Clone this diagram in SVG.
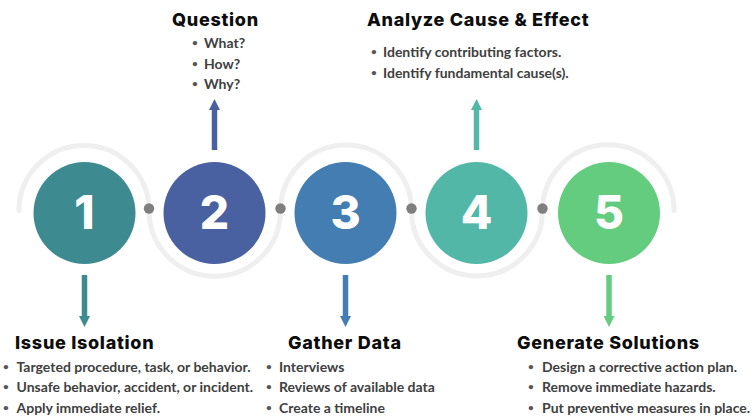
<svg xmlns="http://www.w3.org/2000/svg" width="754" height="417" viewBox="0 0 754 417">
<defs>
<style>
.num{font-family:"Inter","Open Sans","Liberation Sans",sans-serif;font-weight:800;font-size:46px;fill:#fff;text-anchor:middle}
.head{font-family:"Inter","Open Sans","Liberation Sans",sans-serif;font-weight:800;font-size:18px;letter-spacing:0.7px;fill:#0d0d0d}
.body{font-family:"Lato","Liberation Sans",sans-serif;font-weight:700;font-size:14px;fill:#404040}
.bul{font-size:10px;fill:#555}
.ring{fill:none;stroke:#efefef;stroke-width:5;stroke-linecap:round}
.dot{fill:#7f7f7f}
.shaft{stroke-width:5.5;fill:none}
</style>
<marker id="h1" viewBox="0 0 10 10" refX="0" refY="5" markerWidth="11" markerHeight="11" markerUnits="userSpaceOnUse" orient="auto"><path d="M0,0 L10,5 L0,10 z" fill="#3d8b91"/></marker>
<marker id="h2" viewBox="0 0 10 10" refX="0" refY="5" markerWidth="11" markerHeight="11" markerUnits="userSpaceOnUse" orient="auto"><path d="M0,0 L10,5 L0,10 z" fill="#4961a0"/></marker>
<marker id="h3" viewBox="0 0 10 10" refX="0" refY="5" markerWidth="11" markerHeight="11" markerUnits="userSpaceOnUse" orient="auto"><path d="M0,0 L10,5 L0,10 z" fill="#447db1"/></marker>
<marker id="h4" viewBox="0 0 10 10" refX="0" refY="5" markerWidth="11" markerHeight="11" markerUnits="userSpaceOnUse" orient="auto"><path d="M0,0 L10,5 L0,10 z" fill="#52b7a7"/></marker>
<marker id="h5" viewBox="0 0 10 10" refX="0" refY="5" markerWidth="11" markerHeight="11" markerUnits="userSpaceOnUse" orient="auto"><path d="M0,0 L10,5 L0,10 z" fill="#64cc7f"/></marker>
</defs>
<rect width="754" height="417" fill="#fff"/>
<g id="connectors">
<path class="ring" d="M19,210.5 A65,65 0 0 1 149,210.5 A65.5,65.5 0 0 0 280.5,210.5 A65.5,65.5 0 0 1 411.5,210.5 A65.5,65.5 0 0 0 542.5,210.5 A65.5,65.5 0 0 1 674,210.5"/>
<circle class="dot" cx="149" cy="208.5" r="5.2"/>
<circle class="dot" cx="280.5" cy="208.5" r="5.2"/>
<circle class="dot" cx="411.5" cy="208.5" r="5.2"/>
<circle class="dot" cx="542.5" cy="208.5" r="5.2"/>
<line class="shaft" x1="84.5" y1="275" x2="84.5" y2="316" stroke="#3d8b91" marker-end="url(#h1)"/>
<line class="shaft" x1="214.5" y1="150" x2="214.5" y2="110" stroke="#4961a0" marker-end="url(#h2)"/>
<line class="shaft" x1="345.5" y1="275" x2="345.5" y2="316" stroke="#447db1" marker-end="url(#h3)"/>
<line class="shaft" x1="476.5" y1="150" x2="476.5" y2="110" stroke="#52b7a7" marker-end="url(#h4)"/>
<line class="shaft" x1="609" y1="275" x2="609" y2="316" stroke="#64cc7f" marker-end="url(#h5)"/>
</g>
<g id="node1">
<circle cx="84.5" cy="213" r="51" fill="#3d8b91"/>
<text class="num" x="84.5" y="229">1</text>
<text class="head" x="15" y="349">Issue Isolation</text>
<text class="body"><tspan class="bul" x="3" y="370">•</tspan><tspan x="16.5" y="372">Targeted procedure, task, or behavior.</tspan><tspan class="bul" x="3" y="390">•</tspan><tspan x="16.5" y="392">Unsafe behavior, accident, or incident.</tspan><tspan class="bul" x="3" y="410.5">•</tspan><tspan x="16.5" y="412.5">Apply immediate relief.</tspan></text>
</g>
<g id="node2">
<circle cx="214.5" cy="213" r="51" fill="#4961a0"/>
<text class="num" x="214.5" y="229">2</text>
<text class="head" x="172" y="26">Question</text>
<text class="body"><tspan class="bul" x="192" y="46">•</tspan><tspan x="204" y="48">What?</tspan><tspan class="bul" x="192" y="66.5">•</tspan><tspan x="204" y="68.5">How?</tspan><tspan class="bul" x="192" y="87">•</tspan><tspan x="204" y="89">Why?</tspan></text>
</g>
<g id="node3">
<circle cx="345.5" cy="213" r="51" fill="#447db1"/>
<text class="num" x="345.5" y="229">3</text>
<text class="head" x="288" y="349">Gather Data</text>
<text class="body"><tspan class="bul" x="266" y="370">•</tspan><tspan x="279" y="372">Interviews</tspan><tspan class="bul" x="266" y="390">•</tspan><tspan x="279" y="392">Reviews of available data</tspan><tspan class="bul" x="266" y="410.5">•</tspan><tspan x="279" y="412.5">Create a timeline</tspan></text>
</g>
<g id="node4">
<circle cx="476.5" cy="213" r="51" fill="#52b7a7"/>
<text class="num" x="476.5" y="229">4</text>
<text class="head" x="367" y="26">Analyze Cause &amp; Effect</text>
<text class="body"><tspan class="bul" x="371" y="55">•</tspan><tspan x="383" y="57">Identify contributing factors.</tspan><tspan class="bul" x="371" y="76">•</tspan><tspan x="383" y="78">Identify fundamental cause(s).</tspan></text>
</g>
<g id="node5">
<circle cx="609" cy="213" r="51" fill="#64cc7f"/>
<text class="num" x="609" y="229">5</text>
<text class="head" x="517" y="349">Generate Solutions</text>
<text class="body"><tspan class="bul" x="528" y="370">•</tspan><tspan x="542" y="372">Design a corrective action plan.</tspan><tspan class="bul" x="528" y="390">•</tspan><tspan x="542" y="392">Remove immediate hazards.</tspan><tspan class="bul" x="528" y="410.5">•</tspan><tspan x="542" y="412.5">Put preventive measures in place.</tspan></text>
</g>
</svg>
